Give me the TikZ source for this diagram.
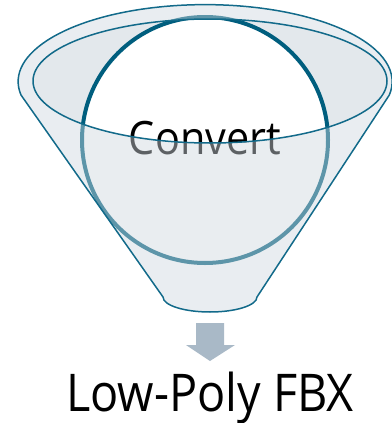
\documentclass[tikz,border=0pt]{standalone}
\usepackage{fontspec}
\newfontfamily\segoe{Open Sans}[FakeStretch=0.9]
\usetikzlibrary{positioning,calc}
\definecolor{rimline}{HTML}{126A8A}
\definecolor{ballline}{HTML}{005E7E}
\definecolor{funnelfill}{HTML}{CFD8DF}
\definecolor{backfill}{HTML}{E3E8EC}
\definecolor{arrowfill}{HTML}{A9B9C7}

\begin{document}
\begin{tikzpicture}[x=1pt, y=1pt, line join=round,
  rim/.style={draw=rimline, line width=1.5pt},
  label/.style={font=\segoe, text=black, inner sep=0pt, anchor=base}]
\useasboundingbox (0,0) rectangle (391,-423);

% Back of the funnel opening
\fill[backfill] (210,-81) ellipse [x radius=177, y radius=62];

% Ball and its text
\node[circle, draw=ballline, line width=4pt, fill=white, minimum size=246pt] (ball) at (205,-140) {};
\node[label, font=\segoe\fontsize{46}{50}\selectfont] (convert) at (205,-154) {Convert};

% Front of the funnel (see-through)
\path[rim, fill=funnelfill, fill opacity=0.45, even odd rule]
  (21,-95) arc [start angle=190, end angle=-10, x radius=187, y radius=77]
  -- (257,-297) arc [start angle=0, end angle=-180, x radius=47, y radius=15]
  -- cycle
  (210,-81) ellipse [x radius=177, y radius=62];

% Down arrow
\fill[arrowfill] (196,-323) -- (224,-323) -- (224,-345) -- (235,-345)
  -- (210,-361) -- (186,-345) -- (196,-345) -- cycle;

% Output
\node[label, font=\segoe\fontsize{52}{57}\selectfont] (fbx) at (210,-411) {Low-Poly FBX};
\end{tikzpicture}
\end{document}
